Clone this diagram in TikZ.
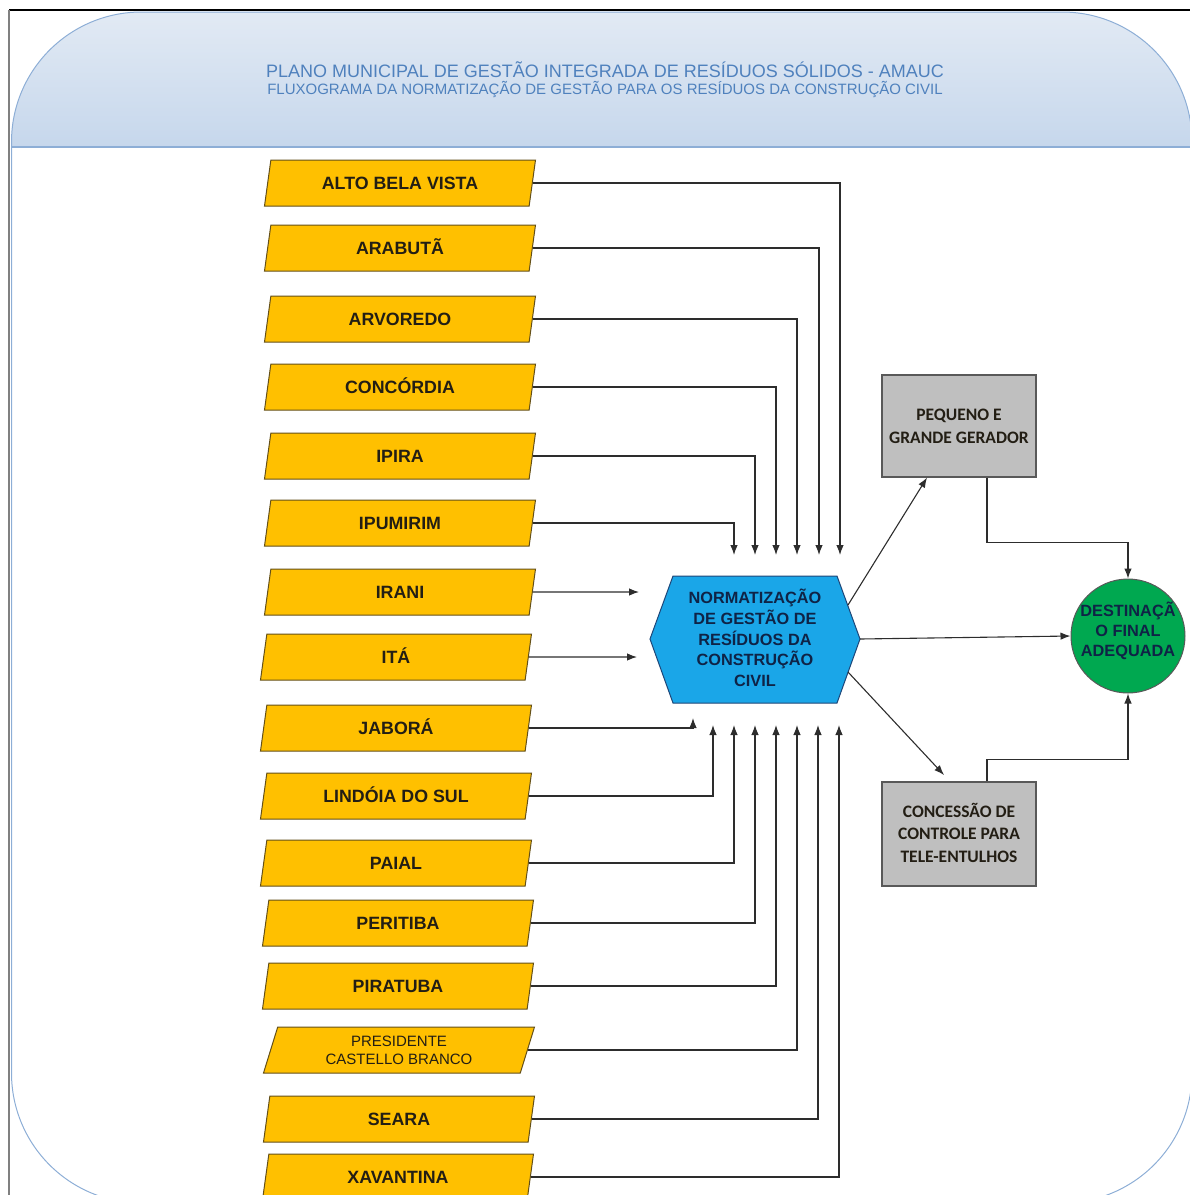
\documentclass[tikz,border=0pt]{standalone}
\usepackage{fontspec}
\setmainfont{Liberation Sans}
\newfontfamily\calibri{Carlito}
\usetikzlibrary{shapes.geometric, arrows.meta}

\definecolor{titleblue}{RGB}{79,129,189}
\definecolor{headtop}{RGB}{226,234,244}
\definecolor{headbottom}{RGB}{198,215,236}
\definecolor{frameline}{RGB}{141,174,214}
\definecolor{townfill}{RGB}{255,192,0}
\definecolor{townline}{RGB}{100,80,25}
\definecolor{towntext}{RGB}{35,30,20}
\definecolor{hexfill}{RGB}{26,166,232}
\definecolor{hexline}{RGB}{30,70,120}
\definecolor{hextext}{RGB}{15,35,70}
\definecolor{boxfill}{RGB}{191,191,191}
\definecolor{boxline}{RGB}{89,89,89}
\definecolor{destfill}{RGB}{0,168,80}
\definecolor{wire}{RGB}{45,45,45}

\tikzset{
    title/.style={anchor=base, inner sep=0pt, text=titleblue,
        font=\fontsize{18}{21}\selectfont},
    subtitle/.style={title, font=\fontsize{15}{17}\selectfont},
    town/.style={trapezium, trapezium left angle=63.4, trapezium right angle=116.6,
        trapezium stretches body=true, minimum width=271pt, minimum height=46pt,
        inner sep=0pt, fill=townfill, draw=townline, line width=1pt, text=towntext,
        font=\bfseries\fontsize{17.8}{20}\selectfont, text height=12.7pt, text depth=0pt},
    hextxt/.style={inner sep=0pt, align=center, text=hextext,
        font=\bfseries\fontsize{16.3}{20.8}\selectfont, text height=94.9pt, text depth=0pt},
    greybox/.style={rectangle, minimum width=154pt, minimum height=102pt, inner sep=0pt,
        fill=boxfill, draw=boxline, line width=1.2pt, text=towntext, align=center,
        font=\calibri\bfseries\fontsize{17.5}{23}\selectfont, text height=34.2pt, text depth=0pt},
    destino/.style={circle, minimum size=114pt, inner sep=0pt, fill=destfill, draw=boxline,
        line width=1pt, align=center, text=hextext,
        font=\bfseries\fontsize{16.3}{20}\selectfont, text height=51.7pt, text depth=10pt},
    wire/.style={draw=wire, line width=1.1pt, ->}
}

\begin{document}
\begin{tikzpicture}[x=1pt, y=-1pt, >={Latex[length=10pt,width=7.5pt]}]
        \pgfmathsetmacro{\yTop}{555}
        \pgfmathsetmacro{\yBot}{725}

        \useasboundingbox (0,0) rectangle (1190,1195);
        \clip (0,0) rectangle (1190,1195);

        \begin{scope}
            \clip[rounded corners=130pt] (11.5,12) rectangle (1192,1203);
            \shade[top color=headtop, bottom color=headbottom] (0,12) rectangle
                (1192,147);
        \end{scope}
        \draw[frameline, line width=1pt, rounded corners=130pt] (11.5,12) rectangle
            (1192,1203);
        \draw[frameline, line width=1.2pt] (11.5,147) -- (1192,147);
        \draw[black, line width=1.3pt] (9,10) -- (1190,10);
        \draw[gray, line width=2pt] (9,10) -- (9,1195);

        \node[title] (plano) at (605,77)
            {PLANO MUNICIPAL DE GESTÃO INTEGRADA DE RESÍDUOS SÓLIDOS - AMAUC};
        \node[subtitle] (fluxo) at (605,94.5)
            {FLUXOGRAMA DA NORMATIZAÇÃO DE GESTÃO PARA OS RESÍDUOS DA CONSTRUÇÃO CIVIL};

        \node[town] (alto) at (400,183) {ALTO BELA VISTA};
        \node[town] (arabuta) at (400,248) {ARABUTÃ};
        \node[town] (arvoredo) at (400,319) {ARVOREDO};
        \node[town] (concordia) at (400,387) {CONCÓRDIA};
        \node[town] (ipira) at (400,456) {IPIRA};
        \node[town] (ipumirim) at (400,523) {IPUMIRIM};
        \node[town] (irani) at (400,592) {IRANI};
        \node[town] (ita) at (396,657) {ITÁ};
        \node[town] (jabora) at (396,728) {JABORÁ};
        \node[town] (lindoia) at (396,796) {LINDÓIA DO SUL};
        \node[town] (paial) at (396,863) {PAIAL};
        \node[town] (peritiba) at (398,923) {PERITIBA};
        \node[town] (piratuba) at (398,986) {PIRATUBA};
        \node[town, font=\fontsize{15}{17.6}\selectfont, align=center, text height=28.4pt,
            text depth=0pt] (presidente) at (399,1050) {PRESIDENTE\\CASTELLO BRANCO};
        \node[town] (seara) at (399,1119) {SEARA};
        \node[town] (xavantina) at (398,1177) {XAVANTINA};

        \filldraw[fill=hexfill, draw=hexline, line width=1pt] (650,639) -- (673,576)
            -- (837,576) -- (860,639) -- (837,703) -- (673,703) -- cycle;
        \node[hextxt] (norma) at (755,639.3)
            {NORMATIZAÇÃO\\DE GESTÃO DE\\RESÍDUOS DA\\CONSTRUÇÃO\\CIVIL};
        \coordinate (normaNE) at (848,605);
        \coordinate (normaE) at (860,639);
        \coordinate (normaSE) at (848,672);

        \node[greybox] (gerador) at (959,426) {PEQUENO E\\GRANDE GERADOR};
        \node[greybox, minimum height=104pt, font=\calibri\bfseries\fontsize{17.5}{22.5}\selectfont,
            text height=56.2pt] (tele) at (959,834) {CONCESSÃO DE\\CONTROLE PARA\\TELE-ENTULHOS};
        \node[destino] (destino) at (1128,636) {DESTINAÇÃ\\O FINAL\\ADEQUADA};

        \coordinate (altoEnd) at (840,\yTop);
        \coordinate (arabutaEnd) at (819,\yTop);
        \coordinate (arvoredoEnd) at (797,\yTop);
        \coordinate (concordiaEnd) at (776,\yTop);
        \coordinate (ipiraEnd) at (755,\yTop);
        \coordinate (ipumirimEnd) at (734,\yTop);
        \coordinate (iraniEnd) at (639,592);
        \coordinate (itaEnd) at (637,657);
        \coordinate (jaboraEnd) at (693,718);
        \coordinate (lindoiaEnd) at (713,\yBot);
        \coordinate (paialEnd) at (734,\yBot);
        \coordinate (peritibaEnd) at (755,\yBot);
        \coordinate (piratubaEnd) at (776,\yBot);
        \coordinate (presidenteEnd) at (797,\yBot);
        \coordinate (searaEnd) at (818,\yBot);
        \coordinate (xavantinaEnd) at (839,\yBot);
        \coordinate (teleEnd) at (944,775);

        \draw[wire] (alto.east) -| (altoEnd);
        \draw[wire] (arabuta.east) -| (arabutaEnd);
        \draw[wire] (arvoredo.east) -| (arvoredoEnd);
        \draw[wire] (concordia.east) -| (concordiaEnd);
        \draw[wire] (ipira.east) -| (ipiraEnd);
        \draw[wire] (ipumirim.east) -| (ipumirimEnd);
        \draw[wire] (irani.east) -- (iraniEnd);
        \draw[wire] (ita.east) -- (itaEnd);
        \draw[wire] (jabora.east) -| (jaboraEnd);
        \draw[wire] (lindoia.east) -| (lindoiaEnd);
        \draw[wire] (paial.east) -| (paialEnd);
        \draw[wire] (peritiba.east) -| (peritibaEnd);
        \draw[wire] (piratuba.east) -| (piratubaEnd);
        \draw[wire] (presidente.east) -| (presidenteEnd);
        \draw[wire] (seara.east) -| (searaEnd);
        \draw[wire] (xavantina.east) -| (xavantinaEnd);

        \draw[wire] (normaNE) -- ([xshift=-32pt]gerador.south);
        \draw[wire] (normaE) -- (destino.west);
        \draw[wire] (normaSE) -- (teleEnd);
        \draw[wire] ([xshift=28pt]gerador.south) -- ++(0,65) -| (destino.north);
        \draw[wire] ([xshift=28pt]tele.north) -- ++(0,-22) -| (destino.south);

    \end{tikzpicture}
\end{document}
